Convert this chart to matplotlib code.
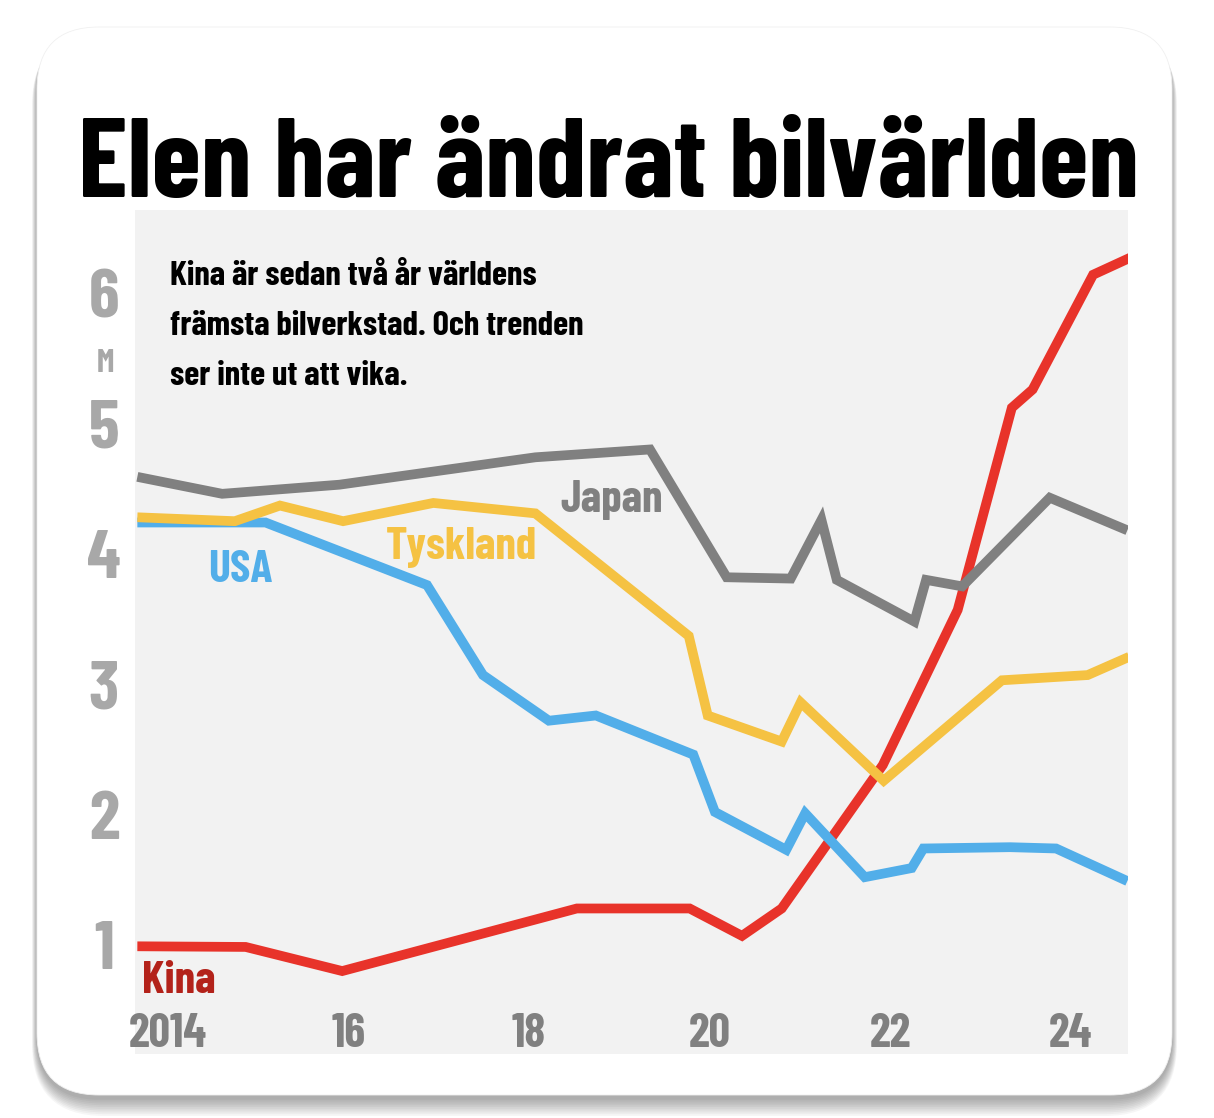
import matplotlib
matplotlib.use("Agg")
import matplotlib.pyplot as plt
from matplotlib.patches import FancyBboxPatch
from matplotlib.transforms import blended_transform_factory, ScaledTranslation

# font: DIN-like condensed bold, with fallbacks
FONT = ["Barlow Condensed", "Roboto Condensed", "DejaVu Sans"]
plt.rcParams['font.family'] = FONT

# --- data (car exports, million vehicles) ---
kina_year = [2013.66, 2014.86, 2015.93, 2018.53, 2019.78, 2020.36, 2020.80, 2021.92,
             2022.75, 2023.35, 2023.58, 2024.25, 2024.69]
kina_val = [0.99, 0.985, 0.80, 1.28, 1.28, 1.07, 1.28, 2.38, 3.57, 5.12, 5.26, 6.14, 6.28]

usa_year = [2013.66, 2015.08, 2016.87, 2017.49, 2018.22, 2018.74, 2019.82, 2020.06,
            2020.85, 2021.06, 2021.72, 2022.24, 2022.37, 2023.33, 2023.84, 2024.63]
usa_val = [4.24, 4.24, 3.76, 3.07, 2.72, 2.76, 2.46, 2.02, 1.73, 2.01, 1.52, 1.59,
           1.74, 1.75, 1.74, 1.49]

tysk_year = [2013.66, 2014.74, 2015.24, 2015.94, 2016.94, 2018.07, 2019.77, 2019.98,
             2020.80, 2021.01, 2021.93, 2023.24, 2024.19, 2024.65]
tysk_val = [4.28, 4.25, 4.37, 4.25, 4.39, 4.31, 3.37, 2.76, 2.56, 2.86, 2.26, 3.03,
            3.07, 3.21]

japan_year = [2013.66, 2014.60, 2015.90, 2018.07, 2019.34, 2020.19, 2020.90, 2021.24,
              2021.41, 2022.27, 2022.40, 2022.80, 2023.77, 2024.63]
japan_val = [4.59, 4.46, 4.53, 4.74, 4.80, 3.82, 3.81, 4.26, 3.80, 3.48, 3.80, 3.75,
             4.43, 4.18]

x_ticks = [2014, 2016, 2018, 2020, 2022, 2024]
x_labels = ["2014", "16", "18", "20", "22", "24"]
y_ticks = [1, 2, 3, 4, 5, 6]

title = "Elen har ändrat bilvärlden"
intro = ["Kina är sedan två år världens",
         "främsta bilverkstad. Och trenden",
         "ser inte ut att vika."]

RED = "#e8332a"
BLUE = "#52aee9"
YELLOW = "#f5c243"
GRAY = "#808080"

W, H = 1214, 1118
fig = plt.figure(figsize=(W / 100, H / 100), dpi=100)
fig.patch.set_facecolor("white")

# background axes in pixel units (y down)
bg = fig.add_axes([0, 0, 1, 1])
bg.set_xlim(0, W)
bg.set_ylim(H, 0)
bg.axis("off")

# card with soft shadow, mostly below
cx0, cy0, cx1, cy1, rad = 37, 27, 1172, 1095, 62
for s in range(10, 0, -1):
    bg.add_patch(FancyBboxPatch((cx0 - s * 0.5, cy0 + 3 + s * 0.3),
                                cx1 - cx0 + s * 1.0, cy1 - cy0 + s * 1.5,
                                boxstyle=f"round,pad=0,rounding_size={rad + s}",
                                facecolor="black", edgecolor="none", alpha=0.035))
bg.add_patch(FancyBboxPatch((cx0, cy0), cx1 - cx0, cy1 - cy0,
                            boxstyle=f"round,pad=0,rounding_size={rad}",
                            facecolor="white", edgecolor="#f0f0f0", linewidth=0.6))

renderer = fig.canvas.get_renderer()

t = bg.text(78, 197, title, fontsize=80, fontweight="bold", color="black",
            ha="left", va="baseline")
t.set_fontsize(80 * 1062 / t.get_window_extent(renderer).width)

# main plot area
px0, py0, px1, py1 = 135, 210, 1128, 1054
ax = fig.add_axes([px0 / W, (H - py1) / H, (px1 - px0) / W, (py1 - py0) / H])
ax.set_facecolor("#f2f2f2")
ax.set_xlim(2013.634, 2024.637)
ax.set_ylim(0.164, 6.6365)
for sp in ax.spines.values():
    sp.set_visible(False)
ax.set_xticks([])
ax.set_yticks([])

# intro text, placed in pixel coords on top of the plot area
lines = []
for i, line in enumerate(intro):
    lines.append(ax.text(170, 285 + 50 * i, line, transform=bg.transData, fontsize=28,
                         fontweight="bold", color="black", ha="left", va="baseline",
                         zorder=7))
fs = 28 * 415 / lines[1].get_window_extent(renderer).width
for tt in lines:
    tt.set_fontsize(fs)

lw = 7
kw = dict(linewidth=lw, solid_joinstyle="miter", solid_capstyle="butt")
ax.plot(kina_year, kina_val, color=RED, zorder=2, **kw)
ax.plot(usa_year, usa_val, color=BLUE, zorder=3, **kw)
ax.plot(tysk_year, tysk_val, color=YELLOW, zorder=4, **kw)
ax.plot(japan_year, japan_val, color=GRAY, zorder=5, **kw)

lab = dict(fontsize=33, fontweight="bold", va="baseline", zorder=6)
ax.text(2014.80, 3.784, "USA", color=BLUE, ha="center", **lab)
ax.text(2017.25, 3.960, "Tyskland", color=YELLOW, ha="center", **lab)
ax.text(2018.92, 4.321, "Japan", color=GRAY, ha="center", **lab)
ax.text(2013.71, 0.632, "Kina", color="#b3221a", ha="left", **lab)

# x tick labels inside the plot area
xtr = blended_transform_factory(ax.transData, bg.transData)
for xv, xl in zip(x_ticks, x_labels):
    ax.text(xv, 1047, xl, transform=xtr, fontsize=34, fontweight="bold",
            color="#808080", ha="center", va="baseline", zorder=6)

# y tick labels left of the plot area
yfs = 50
ytr = blended_transform_factory(bg.transData, ax.transData) + \
    ScaledTranslation(0, -0.35 * yfs / 72, fig.dpi_scale_trans)
for yv in y_ticks:
    ax.text(104, yv, str(yv), transform=ytr, fontsize=yfs, fontweight="bold",
            color="#a8a8a8", ha="center", va="baseline", clip_on=False)
bg.text(105, 372, "M", fontsize=23, fontweight="bold", color="#a8a8a8",
        ha="center", va="baseline")

fig.savefig("out.png", dpi=100, facecolor="white")
